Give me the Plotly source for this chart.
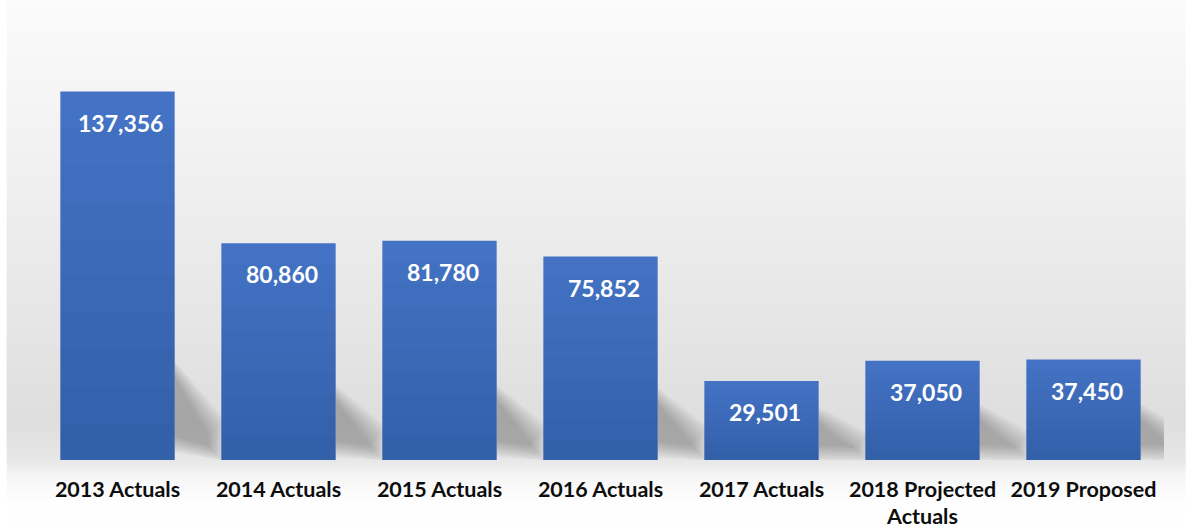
import base64
import plotly.graph_objects as go

# Chart data
categories = ["2013 Actuals", "2014 Actuals", "2015 Actuals", "2016 Actuals",
              "2017 Actuals", "2018 Projected<br>Actuals", "2019 Proposed"]
values = [137356, 80860, 81780, 75852, 29501, 37050, 37450]

# Figure geometry
W, H = 1186, 529
L, R, T, B = 37.4, 21.8, 40, 69
PW, PH = W - L - R, H - T - B
YMAX = 156600
BARGAP = 0.29
HALF = (1 - BARGAP) / 2

BAR_TOP = "#4472c4"
FONT = "Lato"

x_idx = list(range(len(categories)))

fig = go.Figure()

# base bars
fig.add_trace(go.Bar(x=x_idx, y=values, marker=dict(color=BAR_TOP, line=dict(width=0)),
                     hoverinfo="skip", showlegend=False))
# soft vertical shading: darker toward the bottom of each bar
for k in range(1, 10):
    f = 1 - k / 10
    fig.add_trace(go.Bar(x=x_idx, y=[v * f for v in values],
                         marker=dict(color="rgba(20,40,90,0.025)", line=dict(width=0)),
                         hoverinfo="skip", showlegend=False))

# value labels near the top of each bar
for i, v in enumerate(values):
    fig.add_annotation(x=i, y=v, text=f"{v:,}", showarrow=False, yanchor="middle",
                       yshift=-31, xshift=3,
                       font=dict(family=FONT, size=23, color="white", weight="bold"))

# cast shadows to the right of each bar (layered to fake a blur)
cat_px = PW / len(categories)
y_per_px = YMAX / PH


def pt(i, dx, dy):
    return i + HALF + dx / cat_px, dy * y_per_px


for i, v in enumerate(values):
    h = v / y_per_px
    s = 30 + 0.16 * h
    d = 40
    for k in range(10, -8, -2):
        poly = [pt(i, 0, s + k), pt(i, d + k, 0.3 * s + 4 + k),
                pt(i, d + k, max(8 - k, 0)), pt(i, 0, max(0.2 * s - k, 0))]
        path = "M " + " L ".join(f"{px},{py}" for px, py in poly) + " Z"
        fig.add_shape(type="path", path=path, xref="x", yref="y", layer="below",
                      fillcolor="rgba(70,70,70,0.05)", line=dict(width=0))

# background gradient behind the whole chart
svg = f"""<svg xmlns='http://www.w3.org/2000/svg' width='{W}' height='{H}' viewBox='0 0 {W} {H}' preserveAspectRatio='none'>
<defs><linearGradient id='g' x1='0' y1='0' x2='0' y2='1'>
<stop offset='0' stop-color='#fbfbfb'/>
<stop offset='0.3' stop-color='#f1f1f1'/>
<stop offset='0.6' stop-color='#e6e6e6'/>
<stop offset='0.8' stop-color='#dedede'/>
<stop offset='0.87' stop-color='#e7e7e7'/>
<stop offset='0.9' stop-color='#f6f6f6'/>
<stop offset='0.95' stop-color='#fefefe'/>
<stop offset='1' stop-color='#ffffff'/>
</linearGradient></defs>
<rect x='0' y='0' width='{W}' height='{H}' fill='url(#g)'/>
<rect x='0' y='0' width='7' height='{H}' fill='#ffffff'/>
</svg>"""
uri = "data:image/svg+xml;base64," + base64.b64encode(svg.encode()).decode()
fig.add_layout_image(source=uri, xref="paper", yref="paper", x=-L / PW, y=1 + T / PH,
                     sizex=W / PW, sizey=H / PH, sizing="stretch",
                     xanchor="left", yanchor="top", layer="below")

fig.update_layout(
    width=W, height=H,
    margin=dict(l=L, r=R, t=T, b=B, pad=0),
    barmode="overlay", bargap=BARGAP,
    paper_bgcolor="white", plot_bgcolor="rgba(0,0,0,0)",
    showlegend=False,
    xaxis=dict(tickmode="array", tickvals=x_idx, ticktext=categories, automargin=False,
               range=[-0.5, len(categories) - 0.5], showgrid=False, zeroline=False,
               showline=False, ticks="", ticklabelstandoff=14,
               tickfont=dict(family=FONT, size=21.5, color="#0d0d0d", weight="bold")),
    yaxis=dict(range=[0, YMAX], visible=False, showgrid=False, zeroline=False,
               automargin=False),
)

fig.write_html("out.html")
